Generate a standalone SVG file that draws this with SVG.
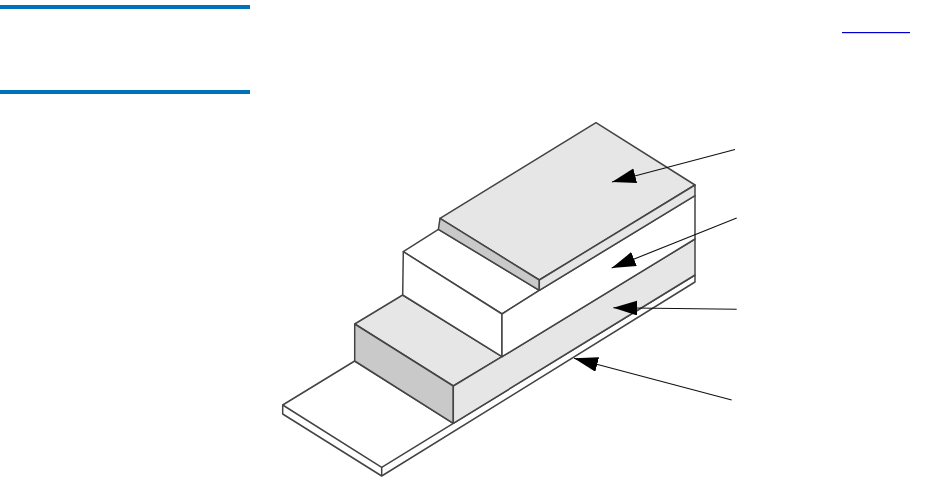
<svg xmlns="http://www.w3.org/2000/svg" width="936" height="500" viewBox="0 0 936 500">
<style>
.e{stroke:#444;stroke-width:1.5;stroke-linejoin:round}
.w{fill:#fff}.g{fill:#e6e6e6}.d{fill:#c9c9c9}
.c{fill:none;stroke:#111;stroke-width:1.1;marker-end:url(#head)}
</style>
<defs>
<marker id="head" markerUnits="userSpaceOnUse" markerWidth="25" markerHeight="16" refX="24" refY="7.5" orient="auto">
<polygon points="0,0 24,7.5 0,15" fill="#000"/>
</marker>
</defs>
<rect width="936" height="500" fill="#fff"/>
<g id="header-rules" fill="#0072bc">
<rect x="0" y="5" width="250" height="4"/>
<rect x="0" y="90" width="250" height="4"/>
</g>
<rect id="link-underline" x="842" y="32" width="68" height="1.2" fill="#0000cc"/>
<g id="base-plate">
<polygon class="e w" points="282.7,405 354.7,361 453.3,423.3 695,275 695,282 381.7,476 282.7,414"/>
<polyline class="e" fill="none" points="282.7,405 381.7,467.3 453.3,423.3"/>
<line class="e" x1="381.7" y1="467.3" x2="381.7" y2="476"/>
</g>
<g id="lower-layer">
<polygon class="e g" points="354.7,324 402.7,295 502,356.7 453.3,386"/>
<polygon class="e d" points="354.7,324 453.3,386 453.3,423.3 354.7,361"/>
<polygon class="e g" points="453.3,386 502,356.7 695,239 695,275 453.3,423.3"/>
</g>
<g id="middle-layer">
<polygon class="e w" points="403.3,251.7 438.4,229.3 539.3,290.3 502,314"/>
<polygon class="e w" points="403.3,251.7 502,314 502,356.7 402.7,295"/>
<polygon class="e w" points="502,314 539.3,290.3 695,195.7 695,239 502,356.7"/>
</g>
<g id="top-layer">
<polygon class="e g" points="440,218.3 596,122.7 695,185 539.3,280"/>
<polygon class="e d" points="440,218.3 539.3,280 539.3,290.3 438.4,229.3"/>
<polygon class="e g" points="539.3,280 695,185 695,195.7 539.3,290.3"/>
</g>
<g id="connectors">
<line class="c" x1="735" y1="149.5" x2="612" y2="182"/>
<line class="c" x1="736.7" y1="218" x2="611.7" y2="268"/>
<line class="c" x1="736.7" y1="309.3" x2="613.3" y2="307.7"/>
<line class="c" x1="731.7" y1="400" x2="574" y2="358.3"/>
</g>
</svg>
